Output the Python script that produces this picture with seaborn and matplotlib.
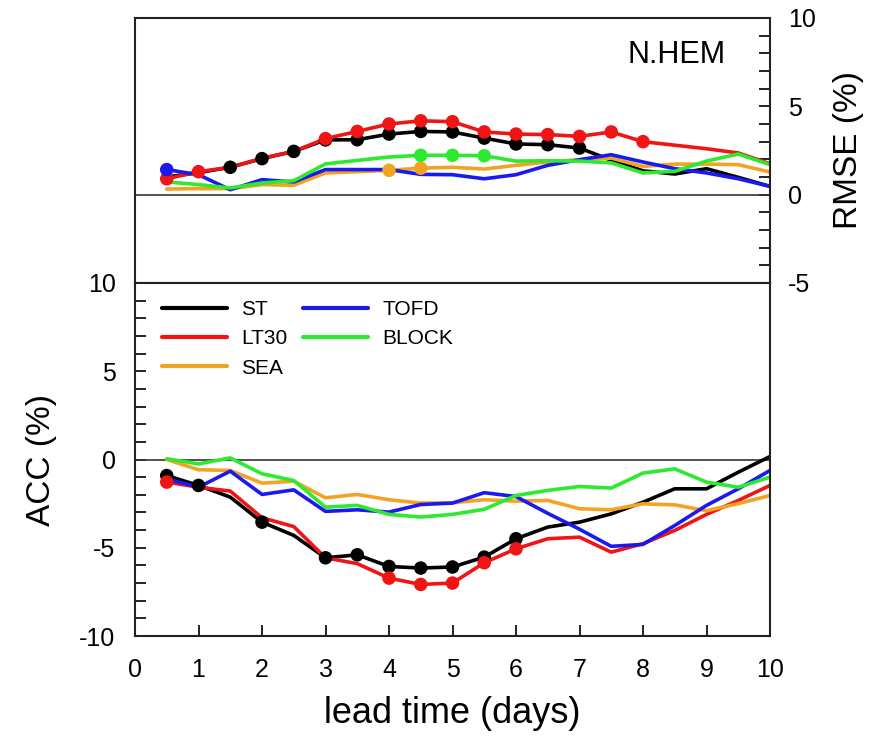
import numpy as np
import pandas as pd
import matplotlib
matplotlib.use("Agg")
import matplotlib.pyplot as plt
import seaborn as sns
from matplotlib.ticker import MultipleLocator

# ---------------- data ----------------
days = [0.5, 1, 1.5, 2, 2.5, 3, 3.5, 4, 4.5, 5, 5.5, 6, 6.5, 7, 7.5, 8, 8.5, 9, 9.5, 10]
experiments = ["ST", "LT30", "SEA", "TOFD", "BLOCK"]

rmse_st = [1.0, 1.25, 1.55, 2.04, 2.45, 3.1, 3.11, 3.43, 3.58, 3.55, 3.2, 2.87, 2.83, 2.64, 1.95, 1.35, 1.17, 1.47, 0.98, 0.47]
rmse_lt30 = [0.9, 1.3, 1.55, 2.06, 2.45, 3.17, 3.58, 4.0, 4.18, 4.13, 3.55, 3.43, 3.4, 3.3, 3.55, 3.0, 2.8, 2.6, 2.36, 1.75]
rmse_sea = [0.32, 0.34, 0.34, 0.57, 0.53, 1.23, 1.3, 1.38, 1.5, 1.55, 1.45, 1.66, 1.85, 1.98, 2.07, 1.6, 1.73, 1.73, 1.7, 1.28]
rmse_tofd = [1.42, 1.13, 0.28, 0.85, 0.72, 1.42, 1.42, 1.42, 1.15, 1.13, 0.9, 1.13, 1.66, 1.98, 2.26, 1.85, 1.47, 1.23, 0.9, 0.47]
rmse_block = [0.72, 0.57, 0.38, 0.66, 0.79, 1.74, 1.94, 2.13, 2.23, 2.23, 2.2, 1.9, 1.92, 1.9, 1.8, 1.23, 1.32, 1.9, 2.3, 1.7]

acc_st = [-0.91, -1.47, -2.13, -3.55, -4.3, -5.57, -5.4, -6.06, -6.15, -6.09, -5.53, -4.49, -3.83, -3.55, -3.08, -2.42, -1.66, -1.66, -0.72, 0.17]
acc_lt30 = [-1.28, -1.57, -1.79, -3.3, -3.8, -5.57, -5.9, -6.72, -7.08, -7.0, -5.85, -5.06, -4.49, -4.4, -5.25, -4.77, -4.02, -3.11, -2.32, -1.47]
acc_sea = [0.0, -0.58, -0.62, -1.34, -1.23, -2.17, -1.98, -2.28, -2.47, -2.45, -2.28, -2.36, -2.32, -2.79, -2.85, -2.51, -2.57, -2.9, -2.5, -2.04]
acc_tofd = [-1.1, -1.57, -0.66, -1.98, -1.72, -2.94, -2.85, -2.98, -2.55, -2.47, -1.88, -2.1, -3.05, -3.95, -4.92, -4.81, -3.74, -2.6, -1.66, -0.62]
acc_block = [0.04, -0.25, 0.09, -0.81, -1.19, -2.7, -2.6, -3.11, -3.26, -3.11, -2.82, -2.04, -1.75, -1.53, -1.62, -0.77, -0.53, -1.28, -1.57, -1.0]

# lead times with significant differences (dots)
rmse_sig_st = [1.5, 2, 2.5, 3, 3.5, 4, 4.5, 5, 5.5, 6, 6.5, 7]
rmse_sig_lt30 = [0.5, 1, 3, 3.5, 4, 4.5, 5, 5.5, 6, 6.5, 7, 7.5, 8]
rmse_sig_sea = [4, 4.5]
rmse_sig_tofd = [0.5]
rmse_sig_block = [4.5, 5, 5.5]

acc_sig_st = [0.5, 1, 2, 3, 3.5, 4, 4.5, 5, 5.5, 6]
acc_sig_lt30 = [0.5, 4, 4.5, 5, 5.5, 6]
acc_sig_sea = []
acc_sig_tofd = []
acc_sig_block = []

colors = {"ST": "#000000", "LT30": "#f01414", "SEA": "#f2a324",
          "TOFD": "#1a1aee", "BLOCK": "#2eea2e"}


def long_frame(series, sigs):
    rows = []
    for exp, vals, sig in zip(experiments, series, sigs):
        for d, v in zip(days, vals):
            rows.append({"day": d, "value": v, "exp": exp, "sig": d in sig})
    return pd.DataFrame(rows)


rmse_df = long_frame([rmse_st, rmse_lt30, rmse_sea, rmse_tofd, rmse_block],
                     [rmse_sig_st, rmse_sig_lt30, rmse_sig_sea, rmse_sig_tofd, rmse_sig_block])
acc_df = long_frame([acc_st, acc_lt30, acc_sea, acc_tofd, acc_block],
                    [acc_sig_st, acc_sig_lt30, acc_sig_sea, acc_sig_tofd, acc_sig_block])

# ---------------- style ----------------
sns.set_theme(style="white")
plt.rcParams["font.family"] = ["Liberation Sans", "DejaVu Sans"]
plt.rcParams["axes.linewidth"] = 1.5
plt.rcParams["axes.edgecolor"] = "#222222"
plt.rcParams["axes.unicode_minus"] = False
plt.rcParams["text.color"] = "black"
plt.rcParams["axes.labelcolor"] = "black"
plt.rcParams["xtick.color"] = "#222222"
plt.rcParams["ytick.color"] = "#222222"
plt.rcParams["xtick.labelcolor"] = "black"
plt.rcParams["ytick.labelcolor"] = "black"

fig = plt.figure(figsize=(8.8, 7.37), dpi=100)
L, W = 135 / 880, 635 / 880
ax_top = fig.add_axes([L, 1 - 283 / 737, W, 265 / 737])
ax_bot = fig.add_axes([L, 1 - 636 / 737, W, 353 / 737])

dot_order = ["ST", "LT30", "SEA", "BLOCK", "TOFD"]


def draw(ax, df, legend):
    ax.axhline(0, color="#333333", lw=1.2, zorder=1)
    sns.lineplot(data=df, x="day", y="value", hue="exp", hue_order=experiments,
                 palette=colors, linewidth=2.6, ax=ax, legend=legend, zorder=2)
    for exp in dot_order:
        sub = df[(df["exp"] == exp) & (df["sig"])]
        if len(sub):
            sns.scatterplot(data=sub, x="day", y="value", color=colors[exp], s=95,
                            edgecolor="none", linewidth=0, ax=ax, legend=False, zorder=3)


draw(ax_top, rmse_df, False)
draw(ax_bot, acc_df, "brief")

# ---- top panel (RMSE, right axis) ----
ax_top.set_xlim(0, 10)
ax_top.set_ylim(-5, 10)
ax_top.set_xlabel("")
ax_top.set_ylabel("")
ax_top.yaxis.set_label_position("right")
ax_top.yaxis.tick_right()
ax_top.set_ylabel("RMSE (%)", fontsize=24, labelpad=12)
ax_top.set_yticks([-5, 0, 5, 10])
ax_top.yaxis.set_minor_locator(MultipleLocator(1))
ax_top.tick_params(axis="y", which="both", direction="in", length=8, width=1.4,
                   labelsize=18, right=True, left=False, pad=13)
ax_top.tick_params(axis="x", which="both", bottom=False, top=False, labelbottom=False)
ax_top.text(0.853, 0.86, "N.HEM", transform=ax_top.transAxes, fontsize=22,
            ha="center", va="center")

# ---- bottom panel (ACC, left axis) ----
ax_bot.set_xlim(0, 10)
ax_bot.set_ylim(-10, 10)
ax_bot.set_yticks([-10, -5, 0, 5, 10])
ax_bot.yaxis.set_minor_locator(MultipleLocator(1))
ax_bot.set_xticks(range(0, 11))
ax_bot.tick_params(axis="y", which="both", direction="in", length=8, width=1.4,
                   labelsize=18, left=True, right=False, pad=14)
ax_bot.tick_params(axis="x", which="both", direction="in", length=8, width=1.4,
                   labelsize=18, bottom=True, top=False, pad=16)
ax_bot.set_xlabel("lead time (days)", fontsize=26, labelpad=10)
ax_bot.set_ylabel("ACC (%)", fontsize=24, labelpad=16)

handles, labels = ax_bot.get_legend_handles_labels()
for h in handles:
    h.set_linewidth(3)
ax_bot.legend(handles, labels, ncol=2, loc="upper left", bbox_to_anchor=(0.043, 0.952),
              frameon=False, fontsize=15, handlelength=3.1, handletextpad=0.7,
              columnspacing=0.75, labelspacing=0.5, borderpad=0, borderaxespad=0)

fig.savefig("out.png", dpi=100)
